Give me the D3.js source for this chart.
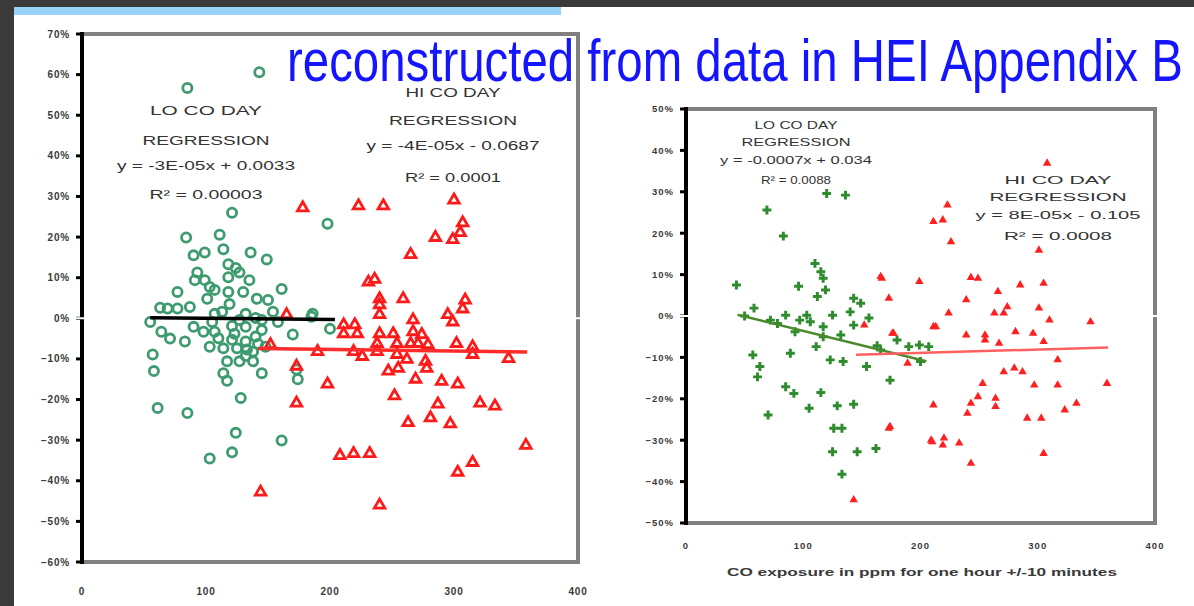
<!DOCTYPE html>
<html><head><meta charset="utf-8">
<script src="https://cdn.jsdelivr.net/npm/d3@7"></script>
<style>
html,body{margin:0;padding:0;background:#fff;overflow:hidden;}
svg{display:block;}
text{font-family:"Liberation Sans",Arial,sans-serif;}
</style></head><body>
<svg id="c" width="1194" height="606"></svg>
<script>
// ---- tick values ----
const xTickValues = [0, 100, 200, 300, 400];
const leftYTickValues = [-0.6, -0.5, -0.4, -0.3, -0.2, -0.1, 0, 0.1, 0.2, 0.3, 0.4, 0.5, 0.6, 0.7];
const rightYTickValues = [-0.5, -0.4, -0.3, -0.2, -0.1, 0, 0.1, 0.2, 0.3, 0.4, 0.5];

// ---- left panel: CO exposure (ppm) vs. change, low and high CO days ----
const leftLoDay = [[143,0.606],[85,0.567],[121,0.260],[198,0.233],[84,0.199],[111,0.206],[90,0.155],[114,0.170],[136,0.162],[149,0.145],[93,0.113],[91,0.094],[161,0.072],[130,0.065],[141,0.048],[69,0.024],[77,0.024],[101,0.048],[186,0.011],[154,0.016],[118,0.133],[118,0.101],[118,0.065],[119,0.035],[107,0.011],[132,0.011],[63,0.026],[87,0.028],[145,-0.004],[64,-0.033],[71,-0.050],[83,-0.057],[90,-0.021],[123,-0.038],[170,-0.040],[114,-0.074],[125,-0.074],[133,-0.077],[138,-0.082],[117,-0.106],[127,-0.106],[138,-0.106],[57,-0.089],[58,-0.130],[114,-0.135],[117,-0.154],[145,-0.135],[174,-0.150],[128,-0.196],[61,-0.221],[85,-0.233],[124,-0.282],[161,-0.301],[121,-0.330],[103,-0.345],[185,0.004],[200,-0.026],[173,-0.126],[98,-0.033],[107,-0.033],[132,-0.021],[140,-0.045],[148,-0.070],[103,-0.070],[132,-0.057],[77,0.065],[55,-0.009],[103,0.077],[127,0.113],[99,0.162],[110,-0.049],[121,-0.053],[132,-0.093],[142,-0.063],[121,-0.019],[145,-0.029],[105,-0.009],[158,-0.009],[113,0.016],[127,-0.004],[99,0.094],[107,0.070],[135,0.094],[124,0.124],[140,0.001],[150,0.045]];
const leftHiDay = [[178,0.272],[223,0.277],[243,0.277],[300,0.291],[307,0.235],[305,0.211],[285,0.199],[299,0.194],[265,0.157],[236,0.096],[240,0.048],[259,0.048],[240,0.033],[240,0.009],[309,0.045],[307,0.023],[295,0.009],[299,-0.009],[211,-0.016],[220,-0.016],[267,-0.004],[211,-0.038],[222,-0.038],[240,-0.038],[251,-0.038],[267,-0.033],[274,-0.040],[238,-0.062],[254,-0.062],[265,-0.062],[271,-0.062],[279,-0.065],[302,-0.062],[315,-0.070],[238,-0.082],[190,-0.082],[219,-0.082],[226,-0.094],[254,-0.089],[262,-0.101],[277,-0.106],[315,-0.089],[344,-0.099],[247,-0.130],[255,-0.123],[278,-0.123],[269,-0.150],[198,-0.162],[290,-0.155],[303,-0.162],[252,-0.191],[287,-0.211],[321,-0.209],[333,-0.216],[263,-0.257],[281,-0.245],[297,-0.260],[358,-0.313],[208,-0.338],[219,-0.333],[232,-0.333],[315,-0.355],[303,-0.379],[240,-0.460],[165,0.009],[152,-0.065],[173,-0.118],[173,-0.209],[144,-0.428],[231,0.089]];
const leftLoFit = [-0.00003, 0.0033];   // slope, intercept
const leftLoSpan = [55, 204];
const leftHiFit = [-0.00004, -0.0687];
const leftHiSpan = [142, 359];
const leftLoText = ["LO CO DAY", "REGRESSION", "y = -3E-05x + 0.0033", "R\u00B2 = 0.00003"];
const leftHiText = ["HI CO DAY", "REGRESSION", "y = -4E-05x - 0.0687", "R\u00B2 = 0.0001"];

// ---- right panel ----
const rightLoDay = [[120,0.296],[136,0.292],[69,0.256],[83,0.193],[110,0.127],[115,0.107],[117,0.091],[43,0.075],[96,0.072],[119,0.063],[112,0.047],[143,0.043],[149,0.031],[58,0.019],[140,0.010],[85,0.002],[103,0.002],[125,0.002],[78,-0.018],[93,-0.038],[117,-0.026],[117,-0.050],[132,-0.046],[143,-0.022],[111,-0.074],[89,-0.090],[57,-0.094],[123,-0.106],[134,-0.110],[154,-0.122],[63,-0.122],[61,-0.147],[174,-0.155],[85,-0.171],[92,-0.187],[115,-0.185],[105,-0.223],[129,-0.217],[143,-0.213],[70,-0.239],[126,-0.271],[133,-0.271],[125,-0.328],[146,-0.328],[162,-0.320],[133,-0.382],[190,-0.074],[199,-0.070],[207,-0.074],[200,-0.110],[163,-0.072],[97,-0.010],[106,-0.014],[72,-0.010],[50,0.000],[156,-0.005],[180,-0.058],[166,-0.082]];
const rightHiDay = [[308,0.369],[223,0.268],[219,0.232],[226,0.179],[301,0.159],[243,0.093],[249,0.091],[199,0.083],[167,0.091],[285,0.075],[305,0.079],[266,0.059],[173,0.043],[239,0.039],[274,0.022],[301,0.019],[263,0.007],[271,0.007],[224,0.007],[310,-0.010],[211,-0.026],[345,-0.014],[239,-0.046],[255,-0.046],[255,-0.058],[281,-0.038],[296,-0.042],[267,-0.066],[305,-0.062],[176,-0.042],[317,-0.106],[280,-0.126],[271,-0.135],[287,-0.135],[253,-0.163],[297,-0.167],[317,-0.167],[359,-0.163],[249,-0.195],[243,-0.211],[264,-0.199],[264,-0.219],[211,-0.215],[333,-0.211],[323,-0.227],[240,-0.235],[291,-0.247],[303,-0.247],[173,-0.271],[209,-0.300],[220,-0.295],[233,-0.307],[219,-0.312],[305,-0.332],[243,-0.356],[189,-0.114],[166,0.095],[211,0.228],[152,-0.022],[177,-0.042],[213,-0.026],[174,-0.267],[210,-0.304],[143,-0.444]];
const rightLoFit = [-0.0007, 0.034];
const rightLoSpan = [44, 205];
const rightHiFit = [0.00008, -0.105];
const rightHiSpan = [145, 360];
const rightLoText = ["LO CO DAY", "REGRESSION", "y = -0.0007x + 0.034", "R\u00B2 = 0.0088"];
const rightHiText = ["HI CO DAY", "REGRESSION", "y = 8E-05x - 0.105", "R\u00B2 = 0.0008"];
const rightXTitle = "CO exposure in ppm  for one hour +/-10 minutes";

const titleText = "reconstructed from data in HEI Appendix B";

const svg = d3.select("#c");
const pct = d3.format(".0%");

// page chrome: dark frame and light-blue banner
svg.append("rect").attr("x", 0).attr("y", 0).attr("width", 1194).attr("height", 606).attr("fill", "#3a3a3a");
svg.append("rect").attr("x", 14).attr("y", 7).attr("width", 1180).attr("height", 599).attr("fill", "#ffffff");
svg.append("rect").attr("x", 14).attr("y", 7).attr("width", 547).attr("height", 8).attr("fill", "#99d2f8");

function drawPanel(o) {
  const g = svg.append("g");
  const x = o.x, y = o.y;
  const [x0, x1] = x.range();
  const [yb, yt] = y.range();

  // plot-area border (gray), left axis drawn in black on top
  g.append("path")
    .attr("d", `M${x0},${yt} H${x1} V${yb} H${x0}`)
    .attr("fill", "none").attr("stroke", "#808080").attr("stroke-width", 4);
  g.append("line").attr("x1", x0).attr("x2", x0).attr("y1", yt - 2).attr("y2", yb + 2)
    .attr("stroke", "#000").attr("stroke-width", 4);
  g.selectAll(".yt").data(o.yTicks).join("line")
    .attr("x1", x0 - 6).attr("x2", x0).attr("y1", d => y(d)).attr("y2", d => y(d))
    .attr("stroke", "#000").attr("stroke-width", 3);
  // horizontal axis at zero, drawn in white
  g.append("line").attr("x1", x0 - 6).attr("x2", x1 + 3).attr("y1", y(0)).attr("y2", y(0))
    .attr("stroke", "#fff").attr("stroke-width", 2);

  g.selectAll(".yl").data(o.yTicks).join("text")
    .attr("x", x0 - 12).attr("y", d => y(d)).attr("dy", "0.35em")
    .attr("text-anchor", "end").attr("font-size", o.tickSize).attr("font-weight", "bold")
    .attr("letter-spacing", o.tickSpacing).attr("fill", "#3a3a3a")
    .text(d => pct(d));
  g.selectAll(".xl").data(xTickValues).join("text")
    .attr("x", d => x(d)).attr("y", o.xLabelY).attr("dy", "0.35em")
    .attr("text-anchor", "middle").attr("font-size", o.tickSize).attr("font-weight", "bold")
    .attr("letter-spacing", o.tickSpacing).attr("fill", "#3a3a3a")
    .text(d => d);

  // markers
  o.drawLo(g.append("g"), o.lo, x, y);
  o.drawHi(g.append("g"), o.hi, x, y);

  // regression lines
  const fitLine = (fit, span) => span.map(v => [x(v), y(fit[0] * v + fit[1])]);
  g.append("path").attr("d", d3.line()(fitLine(o.loFit, o.loSpan)))
    .attr("stroke", o.loLineColor).attr("stroke-width", o.lineWidth).attr("fill", "none");
  g.append("path").attr("d", d3.line()(fitLine(o.hiFit, o.hiSpan)))
    .attr("stroke", o.hiLineColor).attr("stroke-width", o.lineWidth).attr("fill", "none");

  // regression annotations
  [o.loNote, o.hiNote].forEach(n => {
    n.lines.forEach((t, i) => {
      g.append("text")
        .attr("x", n.cx).attr("y", n.base[i])
        .attr("text-anchor", "middle").attr("font-size", n.size)
        .attr("fill", "#333")
        .attr("textLength", n.width[i]).attr("lengthAdjust", "spacingAndGlyphs")
        .text(t);
    });
  });
  return g;
}

const triPath = (s) => {
  const h = s * Math.sqrt(3) / 2;
  return `M0,${-h * 2 / 3} L${s / 2},${h / 3} L${-s / 2},${h / 3} Z`;
};

// left panel
drawPanel({
  x: d3.scaleLinear([0, 400], [82, 578]),
  y: d3.scaleLinear([-0.6, 0.7], [562, 34]),
  yTicks: leftYTickValues, tickSize: 10, tickSpacing: 0.8, xLabelY: 591,
  lo: leftLoDay, hi: leftHiDay,
  drawLo: (g, data, x, y) => g.selectAll("circle").data(data).join("circle")
    .attr("cx", d => x(d[0])).attr("cy", d => y(d[1])).attr("r", 4.6)
    .attr("fill", "none").attr("stroke", "#3d9b6f").attr("stroke-width", 2.8),
  drawHi: (g, data, x, y) => g.selectAll("path").data(data).join("path")
    .attr("transform", d => `translate(${x(d[0])},${y(d[1])})`)
    .attr("d", triPath(10.5)).attr("fill", "none").attr("stroke", "#ff1a1a").attr("stroke-width", 2.8),
  loFit: leftLoFit, loSpan: leftLoSpan, hiFit: leftHiFit, hiSpan: leftHiSpan,
  loLineColor: "#000", hiLineColor: "#ff2a2a", lineWidth: 3.5,
  loNote: { lines: leftLoText, cx: 206, base: [115, 145, 170, 199], width: [112, 127, 178, 113], size: 13 },
  hiNote: { lines: leftHiText, cx: 453, base: [97, 125, 150, 182], width: [95, 128, 173, 96], size: 13 }
});

// right panel
const rp = drawPanel({
  x: d3.scaleLinear([0, 400], [686, 1155]),
  y: d3.scaleLinear([-0.5, 0.5], [523, 109]),
  yTicks: rightYTickValues, tickSize: 9.5, tickSpacing: 1, xLabelY: 546,
  lo: rightLoDay, hi: rightHiDay,
  drawLo: (g, data, x, y) => g.selectAll("path").data(data).join("path")
    .attr("transform", d => `translate(${x(d[0])},${y(d[1])})`)
    .attr("d", d3.symbol(d3.symbolCross, 44)()).attr("fill", "#2e8b2e"),
  drawHi: (g, data, x, y) => g.selectAll("path").data(data).join("path")
    .attr("transform", d => `translate(${x(d[0])},${y(d[1])})`)
    .attr("d", triPath(8.5)).attr("fill", "#ff1f1f"),
  loFit: rightLoFit, loSpan: rightLoSpan, hiFit: rightHiFit, hiSpan: rightHiSpan,
  loLineColor: "#4a8a2a", hiLineColor: "#ff6060", lineWidth: 2.5,
  loNote: { lines: rightLoText, cx: 796, base: [129, 146, 164, 184], width: [83, 109, 152, 70], size: 11 },
  hiNote: { lines: rightHiText, cx: 1058, base: [184, 201, 219, 240], width: [107, 137, 165, 108], size: 11 }
});
rp.append("text").attr("x", 922).attr("y", 576)
  .attr("text-anchor", "middle").attr("font-size", 10).attr("font-weight", "bold")
  .attr("fill", "#3a3a3a").attr("textLength", 390).attr("lengthAdjust", "spacingAndGlyphs")
  .text(rightXTitle);

// title, horizontally condensed to its drawn width
const title = svg.append("text").attr("x", 0).attr("y", 0)
  .attr("font-family", "'Liberation Sans Narrow','Liberation Sans',Arial,sans-serif")
  .attr("font-size", 60).attr("fill", "#1414ff")
  .text(titleText);
const tw = title.node().getComputedTextLength();
title.attr("transform", `translate(287,81) scale(${896 / tw},1)`);
</script>
</body></html>
